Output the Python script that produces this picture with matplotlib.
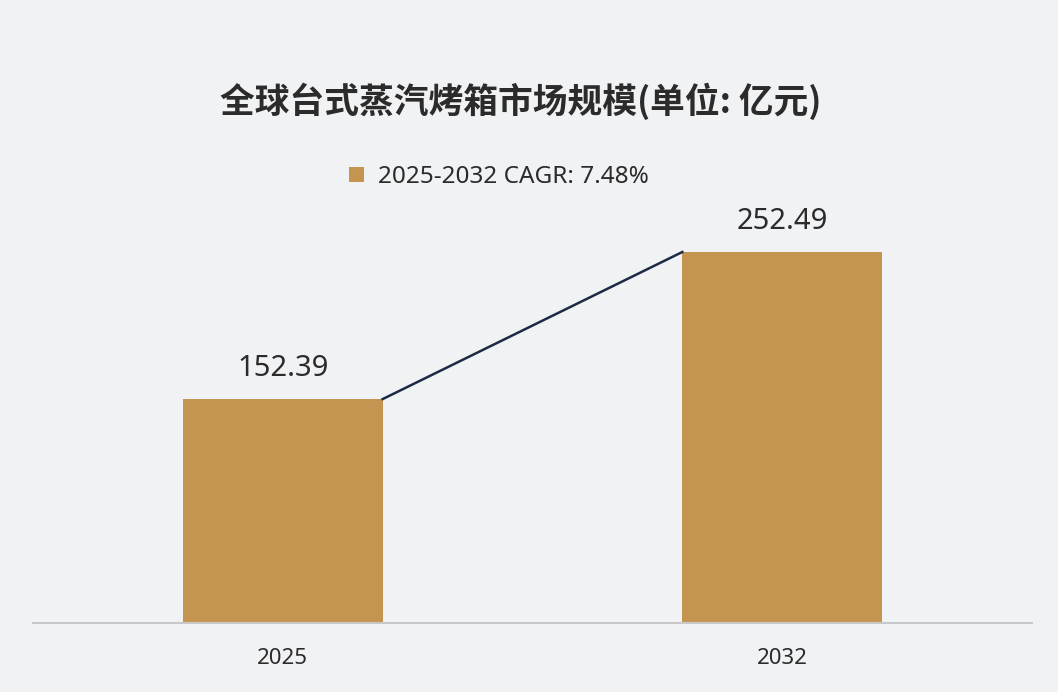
import matplotlib
matplotlib.use('Agg')
import matplotlib.pyplot as plt

plt.rcParams['font.family'] = ['Noto Sans', 'Noto Sans CJK SC', 'DejaVu Sans']

years = ['2025', '2032']
market_size = [152.39, 252.49]
legend_label = '2025-2032 CAGR: 7.48%'
title = '全球台式蒸汽烤箱市场规模(单位: 亿元)'

bg = '#f1f2f4'
bar_color = '#c49550'
line_color = '#1c2b45'
text_color = '#2b2b2b'
bar_w = 0.4

fig = plt.figure(figsize=(10.58, 6.92), dpi=100, facecolor=bg)
ax = fig.add_axes([0.0312, 0.0997, 0.9442, 0.568], facecolor=bg)

x = list(range(len(years)))
bars = ax.bar(x, market_size, width=bar_w, color=bar_color, label=legend_label, zorder=2)

# connector from top-right corner of first bar to top-left of second
ax.plot([x[0] + bar_w / 2, x[1] - bar_w / 2], market_size, color=line_color, lw=1.8, zorder=3)

for xi, v in zip(x, market_size):
    ax.annotate(f'{v:.2f}', (xi, v), xytext=(0, 22), textcoords='offset points',
                ha='center', va='center', fontsize=21, color=text_color)

ax.set_xlim(-0.5, 1.5)
ax.set_ylim(0, 267.5)
ax.set_xticks(x)
ax.set_xticklabels(years, fontsize=16, color=text_color)
ax.tick_params(axis='x', length=0, pad=18)
ax.set_yticks([])
for s in ['top', 'right', 'left']:
    ax.spines[s].set_visible(False)
ax.spines['bottom'].set_color('#c8c8c8')
ax.spines['bottom'].set_linewidth(1.5)

fig.text(0.492, 1 - 101 / 692, title, ha='center', va='center', fontsize=25,
         fontweight='bold', color=text_color, family=['Noto Sans CJK SC', 'DejaVu Sans'])

fig.legend(handles=[bars], labels=[legend_label], loc='center',
           bbox_to_anchor=(499 / 1058, 1 - 177 / 692), frameon=False,
           fontsize=17.5, handlelength=0.6, handleheight=0.6, handletextpad=0.6,
           labelcolor=text_color)

fig.savefig('out.png', dpi=100, facecolor=bg)
